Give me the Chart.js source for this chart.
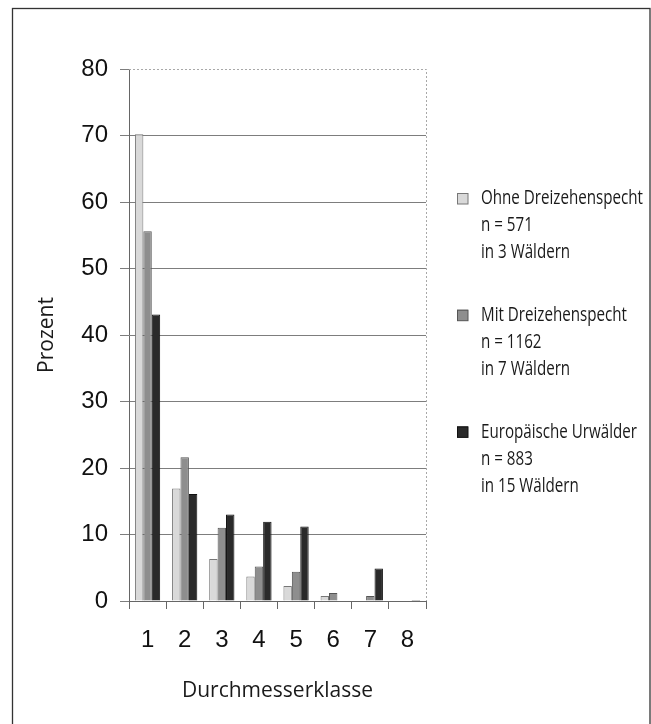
<!DOCTYPE html>
<html>
<head>
<meta charset="utf-8">
<script src="https://cdn.jsdelivr.net/npm/chart.js@4.4.1/dist/chart.umd.min.js"></script>
<style>
  html, body { margin: 0; padding: 0; background: #fff; }
  #wrap { position: relative; width: 651px; height: 724px; }
</style>
</head>
<body>
<div id="wrap"><canvas id="c" width="651" height="724"></canvas></div>
<script>
const categories = ['1', '2', '3', '4', '5', '6', '7', '8'];
const ohneValues = [70.2, 16.9, 6.3, 3.7, 2.25, 0.75, 0, 0];
const mitValues = [55.6, 21.6, 11.0, 5.2, 4.4, 1.2, 0.75, 0];
const urwaldValues = [43.1, 16.1, 13.0, 11.9, 11.2, 0, 4.9, 0.15];
const seriesLabels = ['Ohne Dreizehenspecht', 'Mit Dreizehenspecht', 'Europäische Urwälder'];
const legendSubLines = [
  ['n = 571', 'in 3 Wäldern'],
  ['n = 1162', 'in 7 Wäldern'],
  ['n = 883', 'in 15 Wäldern']
];
const yTicks = [0, 10, 20, 30, 40, 50, 60, 70, 80];
const xTitle = 'Durchmesserklasse';
const yTitle = 'Prozent';

const fills = ['#d9d9d9', '#8e8e8e', '#2a2a2a'];
const borders = ['#777777', '#555555', '#111111'];

const framePlugin = {
  id: 'frame',
  beforeDraw(chart) {
    const ctx = chart.ctx;
    ctx.save();
    ctx.fillStyle = '#ffffff';
    ctx.fillRect(0, 0, chart.width, chart.height);
    ctx.strokeStyle = '#333333';
    ctx.lineWidth = 1.3;
    ctx.strokeRect(12.5, 8.5, 637.5, 740);
    ctx.restore();
  },
  beforeDatasetsDraw(chart) {
    const a = chart.chartArea;
    const ctx = chart.ctx;
    ctx.save();
    ctx.strokeStyle = '#a8a8a8';
    ctx.lineWidth = 1;
    ctx.setLineDash([2, 2]);
    ctx.beginPath();
    ctx.moveTo(a.left, a.top + 0.5);
    ctx.lineTo(a.right + 0.5, a.top + 0.5);
    ctx.lineTo(a.right + 0.5, a.bottom);
    ctx.stroke();
    ctx.restore();
  }
};

const legendPlugin = {
  id: 'multiLegend',
  afterDraw(chart) {
    const ctx = chart.ctx;
    ctx.save();
    ctx.textBaseline = 'middle';
    ctx.textAlign = 'left';
    ctx.font = '20px "Open Sans", "Noto Sans", sans-serif';
    // the printed legend uses a condensed face: compress horizontally to its width
    const sx = 162 / ctx.measureText(seriesLabels[0]).width;
    chart.data.datasets.forEach((ds, i) => {
      const y0 = 198.5 + i * 116.7;
      ctx.fillStyle = ds.backgroundColor;
      ctx.fillRect(457, y0 - 5.5, 11, 11);
      ctx.strokeStyle = ds.borderColor;
      ctx.lineWidth = 1;
      ctx.strokeRect(457.5, y0 - 5, 10.5, 10.5);
      ctx.fillStyle = '#1a1a1a';
      const lines = [ds.label].concat(legendSubLines[i]);
      lines.forEach((t, k) => {
        ctx.save();
        ctx.translate(481, y0 + k * 27);
        ctx.scale(sx, 1);
        ctx.fillText(t, 0, 0);
        ctx.restore();
      });
    });
    ctx.restore();
  }
};

const datasets = [ohneValues, mitValues, urwaldValues].map((vals, i) => ({
  label: seriesLabels[i],
  data: vals,
  backgroundColor: fills[i],
  borderColor: borders[i],
  borderWidth: 1,
  borderSkipped: 'bottom',
  categoryPercentage: 0.68,
  barPercentage: 1.0
}));

new Chart(document.getElementById('c'), {
  type: 'bar',
  data: { labels: categories, datasets },
  options: {
    responsive: false,
    animation: false,
    devicePixelRatio: 1,
    layout: { padding: { left: 0, right: 225, top: 69, bottom: 0 } },
    plugins: {
      legend: { display: false },
      tooltip: { enabled: false }
    },
    scales: {
      x: {
        grid: {
          display: true,
          drawOnChartArea: false,
          drawTicks: true,
          tickLength: 8,
          tickColor: '#666666',
          offset: true
        },
        border: { display: true, color: '#666666', width: 1 },
        ticks: {
          color: '#111111',
          padding: 17,
          font: { family: '"Liberation Sans", Arial, sans-serif', size: 24 }
        },
        title: {
          display: true,
          text: xTitle,
          color: '#1a1a1a',
          padding: { top: 0, bottom: 20 },
          font: { family: '"Open Sans", "Noto Sans", sans-serif', size: 21 }
        },
        afterFit(scale) { scale.height = 123; }
      },
      y: {
        min: 0,
        max: 80,
        afterBuildTicks(scale) { scale.ticks = yTicks.map(v => ({ value: v })); },
        grid: {
          color: (c) => (c.tick && c.tick.value === 80) ? 'rgba(0,0,0,0)' : '#7d7d7d',
          tickColor: '#7d7d7d',
          tickLength: 9,
          lineWidth: 1
        },
        border: { display: true, color: '#666666', width: 1 },
        ticks: {
          color: '#111111',
          padding: 12,
          font: { family: '"Liberation Sans", Arial, sans-serif', size: 24 }
        },
        title: {
          display: true,
          text: yTitle,
          color: '#1a1a1a',
          padding: { top: 34, bottom: 0 },
          font: { family: '"Open Sans", "Noto Sans", sans-serif', size: 21 }
        },
        afterFit(scale) { scale.width = 129; }
      }
    }
  },
  plugins: [framePlugin, legendPlugin]
});
</script>
</body>
</html>
